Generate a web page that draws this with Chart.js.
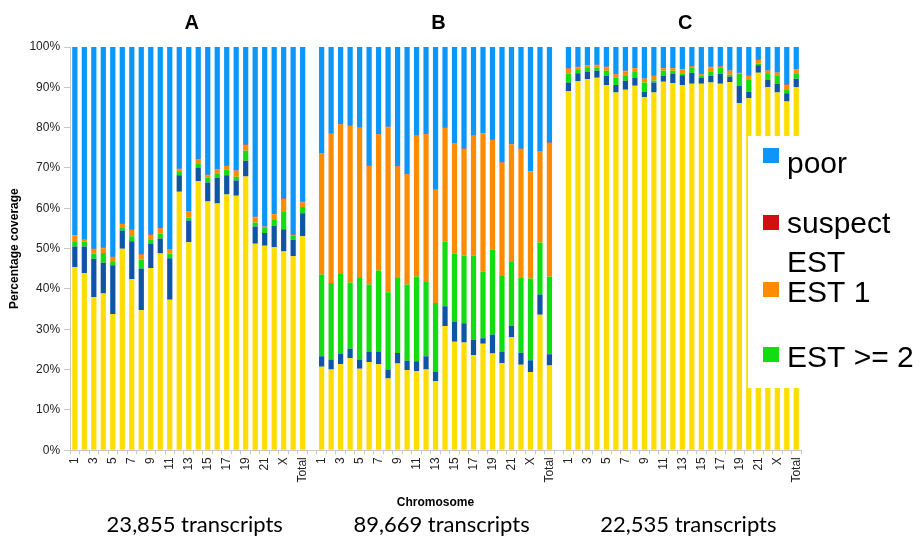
<!DOCTYPE html>
<html>
<head>
<meta charset="utf-8">
<script src="https://cdn.jsdelivr.net/npm/chart.js@4"></script>
<style>
  html, body { margin: 0; padding: 0; background: #fff; }
  #wrap { width: 919px; height: 538px; position: relative; }
</style>
</head>
<body>
<div id="wrap"><canvas id="c"></canvas></div>
<script>
const chromosomes = ['1','2','3','4','5','6','7','8','9','10','11','12','13','14','15','16','17','18','19','20','21','22','X','Y','Total'];
const panels = ['A', 'B', 'C'];
const transcripts = ['23,855 transcripts', '89,669 transcripts', '22,535 transcripts'];

// stacked segments, bottom to top, in percent of transcripts
const goodA    = [45.4,43.9,38.0,38.9,33.8,50.0,42.4,34.7,45.2,48.8,37.3,64.1,51.6,66.7,61.7,61.2,63.4,63.1,67.9,51.2,50.7,50.4,49.3,48.1,53.1];
const partialA = [5.1,6.6,9.5,7.6,12.1,4.5,9.4,10.4,6.1,3.7,10.3,4.1,5.4,3.4,4.7,6.4,4.8,3.8,3.9,4.3,3.2,5.3,5.5,4.1,5.7];
const est2A    = [1.3,1.2,1.3,2.4,1.0,0.8,1.3,2.2,1.0,1.2,1.2,0.8,0.7,1.1,1.2,1.1,1.4,0.9,2.5,1.0,1.4,1.4,4.3,1.1,1.5];
const est1A    = [1.5,0.5,1.1,1.2,1.0,0.8,1.5,1.2,1.1,1.3,0.9,0.7,1.5,0.9,0.6,0.9,0.9,1.5,1.4,1.3,0.1,1.4,3.2,0.1,1.2];
const suspectA = [0.1,0.1,0.1,0.1,0.1,0.1,0.1,0.1,0.1,0.1,0.1,0.1,0.1,0.1,0.1,0.1,0.1,0.1,0.1,0.1,0.1,0.1,0.1,0.1,0.1];
const poorA    = [46.6,47.7,50.0,49.8,52.0,43.8,45.3,51.4,46.5,44.9,50.2,30.2,40.7,27.8,31.7,30.3,29.4,30.6,24.2,42.1,44.5,41.4,37.6,46.5,38.4];

const goodB    = [20.7,20.0,21.3,22.8,20.2,21.9,21.3,17.8,21.5,19.9,19.6,20.0,17.2,30.8,26.9,26.7,23.6,26.4,24.0,21.6,28.1,21.2,19.4,33.6,21.0];
const partialB = [2.6,2.5,2.7,2.4,2.3,2.6,3.2,2.2,2.6,2.3,2.5,3.3,2.2,4.9,5.0,4.8,3.8,1.4,4.7,2.9,2.8,3.0,2.9,5.0,2.8];
const est2B    = [20.3,19.0,19.7,16.4,20.2,16.6,20.1,19.2,18.6,18.9,21.0,18.6,17.1,16.0,16.9,16.8,20.9,16.5,21.0,18.7,16.0,18.5,20.3,12.9,19.3];
const est1B    = [30.0,37.0,37.1,38.8,37.3,29.4,33.7,40.9,27.6,27.3,34.9,36.4,28.1,28.2,27.3,26.4,29.7,34.3,27.3,28.1,28.9,32.0,26.5,22.5,33.1];
const suspectB = [0.1,0.1,0.1,0.1,0.1,0.1,0.1,0.1,0.1,0.1,0.1,0.1,0.1,0.1,0.1,0.1,0.1,0.1,0.2,0.1,0.1,0.1,0.1,0.1,0.1];
const poorB    = [26.3,21.4,19.1,19.5,19.9,29.4,21.6,19.8,29.6,31.5,21.9,21.6,35.3,20.0,23.8,25.2,21.9,21.3,22.8,28.6,24.1,25.2,30.8,25.9,23.7];

const goodC    = [89.1,91.5,92.0,92.4,90.6,88.7,89.4,90.4,87.6,88.7,91.4,91.1,90.6,90.9,90.9,91.2,90.9,91.3,86.1,87.3,93.6,90.1,88.7,86.5,90.1];
const partialC = [2.1,2.0,1.8,1.7,2.3,1.9,2.2,1.9,1.3,2.5,1.4,2.3,2.4,2.7,1.4,1.7,2.4,1.3,4.2,1.6,1.9,1.7,2.2,2.0,2.0];
const est2C    = [2.2,1.0,1.0,0.8,1.2,1.8,1.4,1.5,2.3,0.5,1.4,0.7,0.5,1.4,0.7,1.1,1.5,0.5,3.0,3.1,0.4,1.5,1.9,1.0,1.4];
const est1C    = [1.2,0.5,0.6,0.6,0.9,0.8,1.0,0.9,0.9,1.1,0.5,0.6,0.9,0.1,0.2,1.0,0.3,1.0,0.2,0.8,0.9,0.8,0.8,1.1,0.9];
const suspectC = [0.1,0.1,0.1,0.1,0.1,0.1,0.1,0.1,0.1,0.1,0.1,0.1,0.1,0.1,0.1,0.1,0.1,0.1,0.1,0.1,0.1,0.1,0.1,0.1,0.1];
const poorC    = [5.3,4.9,4.5,4.4,4.9,6.7,5.9,5.2,7.8,7.1,5.2,5.2,5.5,4.8,6.7,4.9,4.8,5.8,6.4,7.1,3.1,5.8,6.3,9.3,5.5];

const yTicks = [0,10,20,30,40,50,60,70,80,90,100];

const PANEL = chromosomes.length + 1; // one empty slot between panels
const labels = [...chromosomes, '', ...chromosomes, '', ...chromosomes];
const join = (a, b, c) => [...a, null, ...b, null, ...c];

const series = [
  { label: 'good',        data: join(goodA, goodB, goodC),          color: '#FFDD00' },
  { label: 'partial',     data: join(partialA, partialB, partialC), color: '#0F55A5' },
  { label: 'EST >= 2',    data: join(est2A, est2B, est2C),          color: '#11DD11' },
  { label: 'EST 1',       data: join(est1A, est1B, est1C),          color: '#FF8C00' },
  { label: 'suspect EST', data: join(suspectA, suspectB, suspectC), color: '#D01010' },
  { label: 'poor',        data: join(poorA, poorB, poorC),          color: '#0A96FA' }
];

// panel letters, transcript counts and the boxed legend
const overlay = {
  id: 'overlay',
  afterDraw(chart) {
    const { ctx, scales: { x } } = chart;
    ctx.save();
    ctx.fillStyle = '#000';
    ctx.textAlign = 'center';
    panels.forEach((p, i) => {
      const cx = x.getPixelForValue(i * PANEL + 12);
      ctx.font = 'bold 20px Arial';
      ctx.fillText(p, cx + 3, 29);
      ctx.font = '22px Lato';
      ctx.fillText(transcripts[i], cx + 6, 532);
    });

    // legend box
    ctx.fillStyle = '#fff';
    ctx.fillRect(748, 136, 171, 252);
    const items = [
      { s: series[5], y: 148, lines: ['poor'], ty: 173 },
      { s: series[4], y: 215, lines: ['suspect', 'EST'], ty: 233 },
      { s: series[3], y: 282, lines: ['EST 1'], ty: 302 },
      { s: series[2], y: 347, lines: ['EST >= 2'], ty: 367 }
    ];
    ctx.textAlign = 'left';
    ctx.font = '30px Arial';
    items.forEach(it => {
      ctx.fillStyle = it.s.color;
      ctx.fillRect(763, it.y, 16, 15);
      ctx.fillStyle = '#000';
      it.lines.forEach((t, k) => ctx.fillText(t, 787, it.ty + k * 39));
    });
    ctx.restore();
  }
};

new Chart(document.getElementById('c'), {
  type: 'bar',
  data: {
    labels,
    datasets: series.map(s => ({
      label: s.label,
      data: s.data,
      backgroundColor: s.color,
      borderWidth: 0,
      categoryPercentage: 1,
      barPercentage: 0.55
    }))
  },
  options: {
    responsive: true,
    maintainAspectRatio: false,
    animation: false,
    layout: { padding: { top: 47, left: 7, right: 118, bottom: 28 } },
    plugins: {
      legend: { display: false },
      tooltip: { enabled: false }
    },
    scales: {
      x: {
        stacked: true,
        grid: { display: true, drawOnChartArea: false, offset: true, tickLength: 4, color: '#c8c8c8' },
        border: { color: '#c8c8c8' },
        ticks: {
          autoSkip: false,
          minRotation: 90,
          maxRotation: 90,
          padding: 3,
          color: '#222',
          font: { family: 'Arial', size: 12 },
          callback(val, i) {
            const k = i % PANEL;
            return (k < chromosomes.length && k % 2 === 0) ? this.getLabelForValue(val) : '';
          }
        },
        title: { display: true, text: 'Chromosome', color: '#000', font: { family: 'Arial', size: 12, weight: 'bold' }, padding: { top: 10, bottom: 0 } }
      },
      y: {
        stacked: true,
        min: 0,
        max: 100,
        afterBuildTicks(axis) { axis.ticks = yTicks.map(v => ({ value: v })); },
        grid: { display: true, drawOnChartArea: false, tickLength: 6, color: '#c8c8c8' },
        border: { color: '#c8c8c8' },
        ticks: {
          color: '#222',
          font: { family: 'Arial', size: 12 },
          padding: 4,
          callback: v => v + '%'
        },
        title: { display: true, text: 'Percentage coverage', color: '#000', font: { family: 'Arial', size: 12, weight: 'bold' }, padding: { top: 0, bottom: 4 } }
      }
    }
  },
  plugins: [overlay]
});
</script>
</body>
</html>
